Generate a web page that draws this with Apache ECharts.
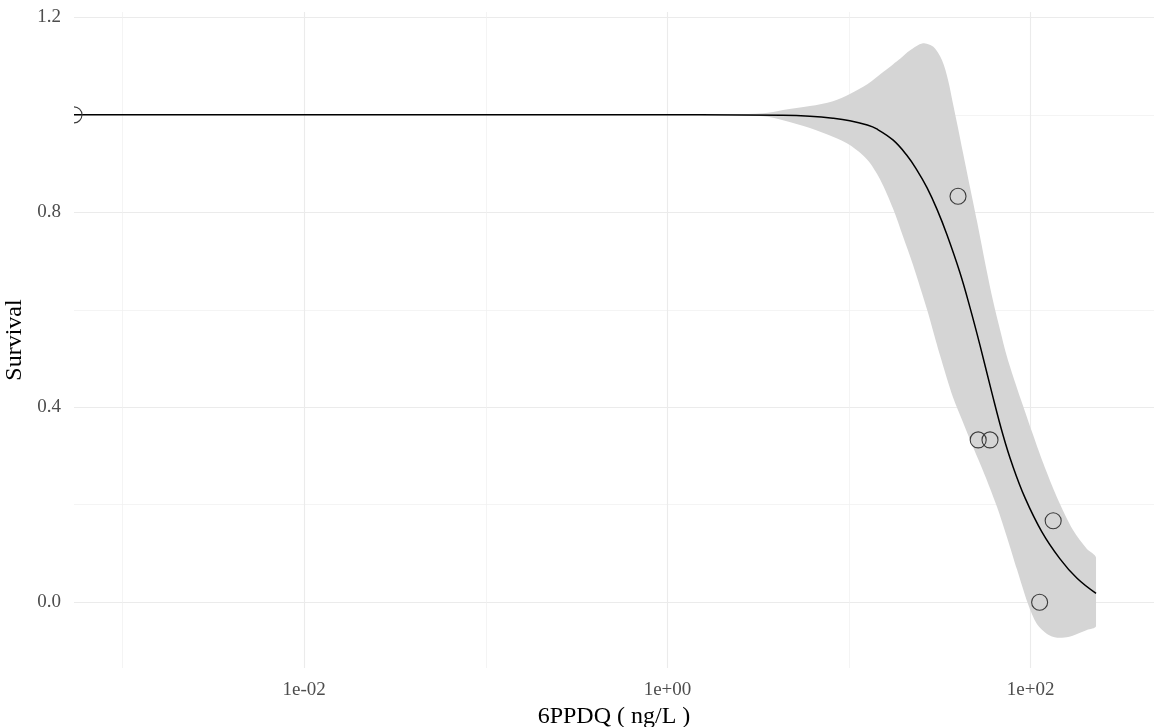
<!DOCTYPE html>
<html>
<head>
<meta charset="utf-8">
<script src="https://cdn.jsdelivr.net/npm/echarts@6/dist/echarts.min.js"></script>
<style>
  html, body { margin: 0; padding: 0; background: #ffffff; }
  #chart { width: 1154px; height: 727px; }
</style>
</head>
<body>
<div id="chart"></div>
<script>
// Observed survival at each exposure concentration (ng/L); the control sits at the left limit
const obsDose = [0.00054, 39.8, 51.4, 59.7, 112, 133];
const obsSurv = [1.0, 0.833, 0.333, 0.333, 0.0, 0.167];

// Fitted dose-response curve
const curveDose = [0.00054, 1.51, 4.33, 6.09, 8.15, 10.1, 12.6, 14.2, 17.5, 20.8, 23.6, 26.9, 30.5,
                   34.6, 40.8, 46.3, 52.6, 61.2, 70.4, 78.9, 93.1, 115, 145, 180, 229];
const curveSurv = [1.0, 1.0, 0.999, 0.997, 0.993, 0.988, 0.979, 0.971, 0.948, 0.917, 0.887, 0.850, 0.806,
                   0.754, 0.676, 0.605, 0.527, 0.429, 0.343, 0.284, 0.214, 0.145, 0.089, 0.049, 0.018];

// Upper edge of the confidence band
const upperDose = [0.00054, 1.51, 3.36, 4.33, 6.09, 8.15, 10.1, 12.6, 15.4, 17.5, 19.1, 21.6, 25.5, 29.0,
                   32.5, 35.1, 37.3, 39.8, 42.4, 46.3, 50.6, 57.4, 61.9, 67.8, 74.1, 84.1, 93.1, 102,
                   117, 140, 171, 204, 229];
const upperSurv = [1.0, 1.0, 1.003, 1.010, 1.018, 1.028, 1.043, 1.063, 1.088, 1.104, 1.115, 1.132, 1.147, 1.140,
                   1.112, 1.071, 1.024, 0.973, 0.922, 0.852, 0.782, 0.678, 0.620, 0.559, 0.503, 0.439, 0.391, 0.348,
                   0.286, 0.214, 0.148, 0.109, 0.091];

// Lower edge of the confidence band
const lowerDose = [0.00054, 1.51, 3.36, 4.33, 6.09, 8.15, 10.1, 12.6, 14.8, 17.5, 19.8, 22.5, 26.9, 31.7,
                   37.3, 41.9, 48.1, 56.0, 65.2, 74.1, 84.1, 96.6, 108, 123, 140, 158, 180, 204, 229];
const lowerSurv = [1.0, 1.0, 0.997, 0.989, 0.973, 0.955, 0.938, 0.908, 0.868, 0.807, 0.751, 0.692, 0.600, 0.506,
                   0.421, 0.374, 0.319, 0.260, 0.196, 0.133, 0.067, -0.003, -0.044, -0.065, -0.073, -0.072,
                   -0.065, -0.057, -0.049];

// Axis ticks and limits
const xTickValues = [0.01, 1, 100];
const xTickLabels = ['1e-02', '1e+00', '1e+02'];
const xMinorValues = [0.001, 0.1, 10];
const yTickValues = [0, 0.4, 0.8, 1.2];
const yMinorValues = [0.2, 0.6, 1.0];
const xLimits = [0.00054, 477.5];
const yLimits = [-0.135, 1.211];

const lg = Math.log10;
const serif = 'Liberation Serif';
const tickColor = '#4d4d4d';

const chart = echarts.init(document.getElementById('chart'), null, { renderer: 'canvas' });

const xMin = lg(xLimits[0]);
const xMax = lg(xLimits[1]);

function xLabel(v) {
  for (let i = 0; i < xTickValues.length; i++) {
    if (Math.abs(lg(xTickValues[i]) - v) < 1e-6) return xTickLabels[i];
  }
  return '';
}

const option = {
  animation: false,
  backgroundColor: '#ffffff',
  grid: { left: 74, right: 0, top: 12, bottom: 59, containLabel: false, outerBoundsMode: 'none' },
  xAxis: [
    {
      type: 'value', min: xMin, max: xMax,
      axisLine: { show: false },
      axisTick: { show: false, customValues: xTickValues.map(lg) },
      axisLabel: {
        customValues: xTickValues.map(lg), formatter: xLabel,
        color: tickColor, fontFamily: serif, fontSize: 19, margin: 13
      },
      splitLine: { show: true, lineStyle: { color: '#ebebeb', width: 1.1 } },
      name: '6PPDQ ( ng/L )', nameLocation: 'middle', nameGap: 34,
      nameTextStyle: { color: '#000', fontFamily: serif, fontSize: 24 }
    },
    {
      type: 'value', min: xMin, max: xMax,
      axisLine: { show: false },
      axisTick: { show: false, customValues: xMinorValues.map(lg) },
      axisLabel: { show: false, customValues: xMinorValues.map(lg) },
      splitLine: { show: true, lineStyle: { color: '#efefef', width: 0.7 } }
    }
  ],
  yAxis: [
    {
      type: 'value', min: yLimits[0], max: yLimits[1],
      axisLine: { show: false },
      axisTick: { show: false, customValues: yTickValues },
      axisLabel: {
        customValues: yTickValues, formatter: v => v.toFixed(1),
        color: tickColor, fontFamily: serif, fontSize: 19, margin: 13
      },
      splitLine: { show: true, lineStyle: { color: '#ebebeb', width: 1.1 } },
      name: 'Survival', nameLocation: 'middle', nameGap: 42, nameRotate: 90,
      nameTextStyle: { color: '#000', fontFamily: serif, fontSize: 24 }
    },
    {
      type: 'value', min: yLimits[0], max: yLimits[1],
      axisLine: { show: false },
      axisTick: { show: false, customValues: yMinorValues },
      axisLabel: { show: false, customValues: yMinorValues },
      splitLine: { show: true, lineStyle: { color: '#efefef', width: 0.7 } }
    }
  ],
  series: [
    {
      // confidence band as one closed polygon, smoothing kept inside its bounding box
      type: 'custom', silent: true, clip: true, z: 2,
      data: [[lg(upperDose[0]), upperSurv[0]]],
      encode: { x: 0, y: 1 },
      renderItem: function (params, api) {
        const top = upperDose.map((d, i) => api.coord([lg(d), upperSurv[i]]));
        const bottom = lowerDose.map((d, i) => api.coord([lg(d), lowerSurv[i]])).reverse();
        const pts = top.concat(bottom);
        const xs = pts.map(p => p[0]);
        const ys = pts.map(p => p[1]);
        const box = [
          [Math.min.apply(null, xs), Math.min.apply(null, ys)],
          [Math.max.apply(null, xs), Math.max.apply(null, ys)]
        ];
        return {
          type: 'polygon',
          shape: { points: pts, smooth: 0.3, smoothConstraint: box },
          style: { fill: '#d5d5d5', stroke: null }
        };
      }
    },
    {
      type: 'line', silent: true, z: 3,
      data: curveDose.map((d, i) => [lg(d), curveSurv[i]]),
      showSymbol: false, smooth: 0.4,
      lineStyle: { color: '#000000', width: 1.5 }
    },
    {
      // open circles for observations, clipped at the panel
      type: 'custom', silent: true, clip: true, z: 4,
      data: obsDose.map((d, i) => [lg(d), obsSurv[i]]),
      encode: { x: 0, y: 1 },
      renderItem: function (params, api) {
        const p = api.coord([api.value(0), api.value(1)]);
        return {
          type: 'circle',
          shape: { cx: p[0], cy: p[1], r: 8 },
          style: { fill: 'none', stroke: '#3a3a3a', lineWidth: 1.1 }
        };
      }
    }
  ]
};

chart.setOption(option);
</script>
</body>
</html>
